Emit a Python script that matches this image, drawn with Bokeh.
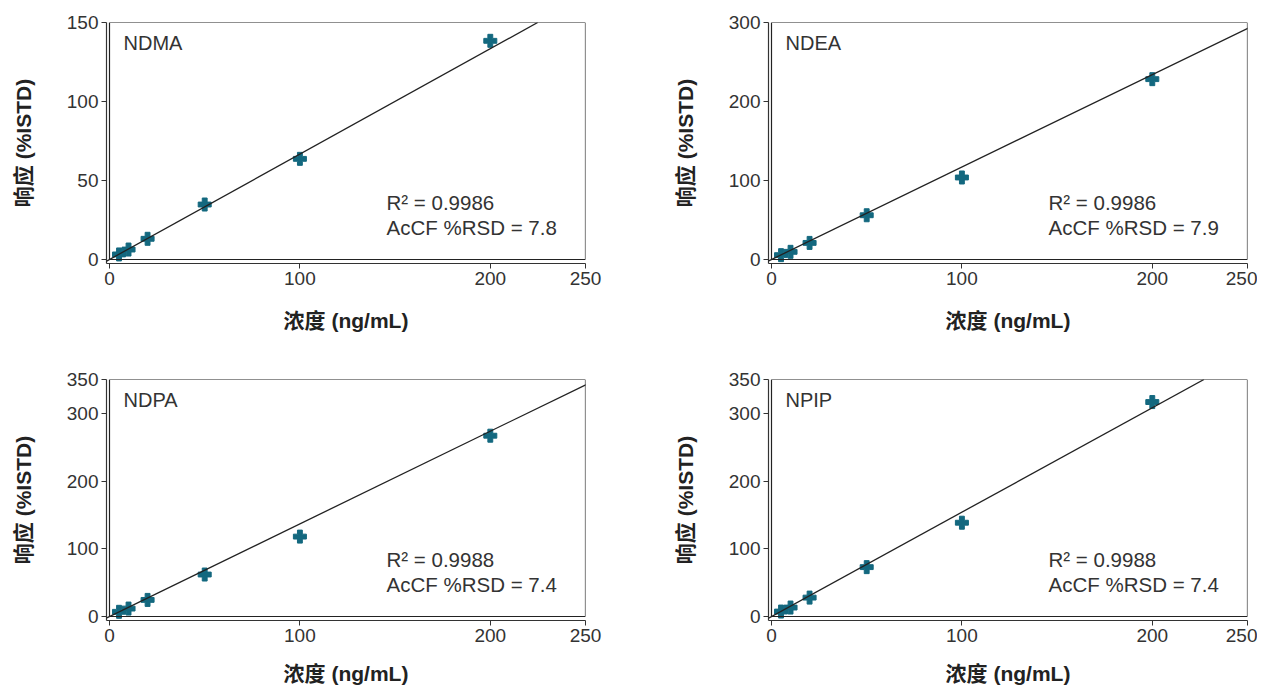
from bokeh.plotting import figure
from bokeh.layouts import column, row
from bokeh.models import Range1d, FixedTicker, BoxAnnotation, Slope, Label, ColumnDataSource
from bokeh.embed import file_html
from bokeh.resources import INLINE

# ---------------- data ----------------
conc = [5, 10, 20, 50, 100, 200]
names = ["NDMA", "NDEA", "NDPA", "NPIP"]
ndma = [3.2, 6.3, 13.1, 34.8, 63.7, 138.4]
ndea = [5.5, 9.7, 21.0, 56.0, 103.8, 228.3]
ndpa = [6.9, 11.7, 24.5, 62.0, 118.0, 267.0]
npip = [7.3, 13.2, 27.9, 72.9, 138.5, 316.7]
series = [ndma, ndea, ndpa, npip]
fit_slope = [0.667, 1.17, 1.368, 1.541]
fit_intercept = [0.0, 0.0, 0.0, 0.0]
r2 = ["0.9986", "0.9986", "0.9988", "0.9988"]
rsd = ["7.8", "7.9", "7.4", "7.4"]
x_max = 250
x_ticks = [0, 100, 200, 250]
y_max = [150, 300, 350, 350]
y_ticks = [[0, 50, 100, 150], [0, 100, 200, 300], [0, 100, 200, 300, 350], [0, 100, 200, 300, 350]]
x_title = "浓度 (ng/mL)"
y_title = "响应 (%ISTD)"

# ---------------- style / layout ----------------
MARK = "#13687f"
TXT = "#333333"
BOX_W, BOX_H = 476, 237      # px of the boxed data area
GAP_L, GAP_B = 3, 4          # px offset of axes from box
FONT = "Liberation Sans"
CJK = "Liberation Sans, Noto Sans CJK SC"


def make(i, width, height, bl, br, bt, bb, xlab_standoff):
    ym = y_max[i]
    x0 = -GAP_L * x_max / BOX_W
    y0 = -GAP_B * ym / BOX_H
    p = figure(width=width, height=height, output_backend="svg", toolbar_location=None,
               x_range=Range1d(x0, x_max), y_range=Range1d(y0, ym),
               min_border_left=bl, min_border_right=br, min_border_top=bt, min_border_bottom=bb)
    p.outline_line_color = None
    p.grid.visible = False
    p.background_fill_color = "white"
    p.border_fill_color = "white"

    box = BoxAnnotation(left=0, right=x_max, bottom=0, top=ym, fill_color=None, fill_alpha=0,
                        line_color="#222222", line_alpha=1.0, line_width=1.2)
    p.add_layout(box)

    for ax in (p.xaxis[0], p.yaxis[0]):
        ax.axis_line_color = "#333333"
        ax.axis_line_width = 1.2
        ax.major_tick_line_color = "#333333"
        ax.major_tick_in = 0
        ax.major_tick_out = 5
        ax.minor_tick_line_color = None
        ax.major_label_text_font = FONT
        ax.major_label_text_font_size = "19px"
        ax.major_label_text_color = TXT
        ax.axis_label_text_font = CJK
        ax.axis_label_text_font_size = "21px"
        ax.axis_label_text_font_style = "bold"
        ax.axis_label_text_color = "#222222"
    p.xaxis[0].ticker = FixedTicker(ticks=x_ticks)
    p.yaxis[0].ticker = FixedTicker(ticks=y_ticks[i])
    p.xaxis[0].major_label_standoff = 3
    p.yaxis[0].major_label_standoff = 3
    p.xaxis[0].axis_label = x_title
    p.yaxis[0].axis_label = y_title
    p.xaxis[0].axis_label_standoff = xlab_standoff
    p.yaxis[0].axis_label_standoff = 29

    p.add_layout(Slope(gradient=fit_slope[i], y_intercept=fit_intercept[i],
                       line_color="#222222", line_width=1.3))

    src = ColumnDataSource(dict(x=conc, y=series[i]))
    p.scatter("x", "y", source=src, marker="plus", size=13, fill_color=MARK,
              line_color=MARK, line_width=1)

    p.add_layout(Label(x=x_max * 0.0294, y=ym * 0.912, text=names[i], text_font=FONT,
                       text_font_size="20px", text_color=TXT, text_baseline="middle"))
    p.add_layout(Label(x=x_max * 0.582, y=ym * 0.2405, text="R² = " + r2[i], text_font=FONT,
                       text_font_size="20.5px", text_color=TXT, text_baseline="middle"))
    p.add_layout(Label(x=x_max * 0.582, y=ym * 0.135, text="AcCF %RSD = " + rsd[i], text_font=FONT,
                       text_font_size="20.5px", text_color=TXT, text_baseline="middle"))
    return p


fw = BOX_W + GAP_L
fh = BOX_H + GAP_B
W1, W2 = 658, 599
H1, H2 = 358, 332
L1, L2 = 106, 110
T1, T2 = 22, 21
p1 = make(0, W1, H1, L1, W1 - L1 - fw, T1, H1 - T1 - fh, 21)
p2 = make(1, W2, H1, L2, W2 - L2 - fw, T1, H1 - T1 - fh, 21)
p3 = make(2, W1, H2, L1, W1 - L1 - fw, T2, H2 - T2 - fh, 17)
p4 = make(3, W2, H2, L2, W2 - L2 - fw, T2, H2 - T2 - fh, 17)

layout = column(row(p1, p2), row(p3, p4))
open("out.html", "w").write(file_html(layout, INLINE))
